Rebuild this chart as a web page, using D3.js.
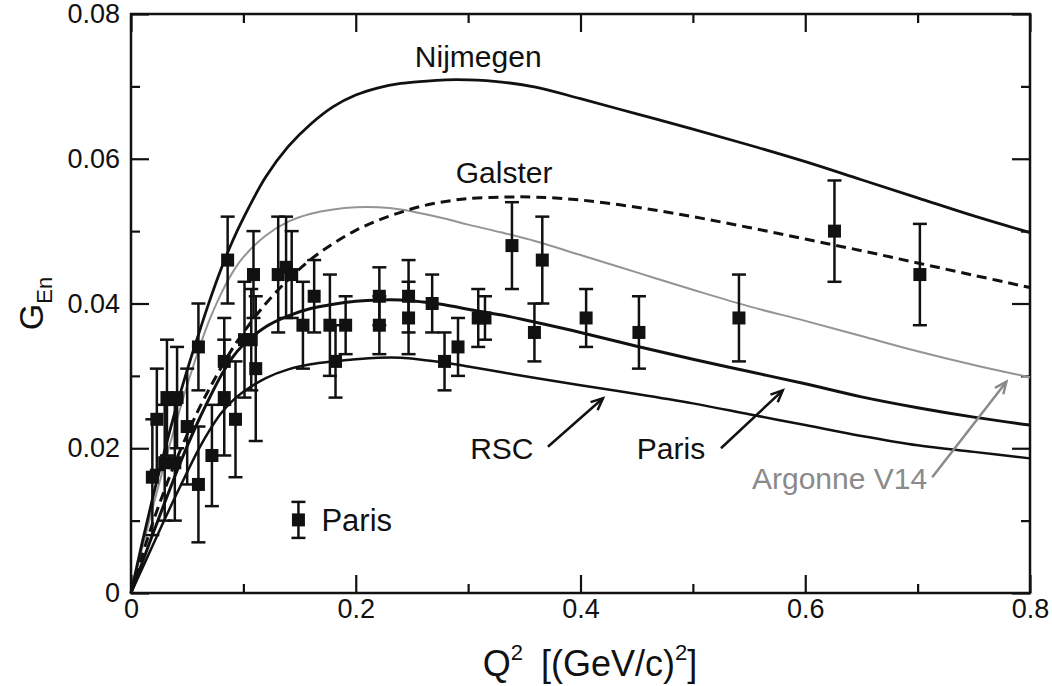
<!DOCTYPE html>
<html><head><meta charset="utf-8">
<script src="https://cdn.jsdelivr.net/npm/d3@7"></script>
<style>
body{margin:0;background:#fff;}
text{font-family:"Liberation Sans",Arial,Helvetica,sans-serif;}
</style></head>
<body><svg id="c" width="1052" height="686"></svg>
<script>
// ---- data ----
const qData = [0.019,0.023,0.030,0.032,0.039,0.041,0.050,0.060,0.060,0.072,0.083,0.083,0.086,0.093,0.101,0.107,0.109,0.111,0.131,0.138,0.143,0.153,0.163,0.177,0.182,0.191,0.221,0.221,0.247,0.247,0.268,0.279,0.291,0.309,0.315,0.339,0.359,0.366,0.405,0.452,0.541,0.626,0.702];
const gData = [0.016,0.024,0.018,0.027,0.018,0.027,0.023,0.034,0.015,0.019,0.032,0.027,0.046,0.024,0.035,0.035,0.044,0.031,0.044,0.045,0.044,0.037,0.041,0.037,0.032,0.037,0.041,0.037,0.041,0.038,0.040,0.032,0.034,0.038,0.038,0.048,0.036,0.046,0.038,0.036,0.038,0.050,0.044];
const gErr  = [0.008,0.007,0.008,0.008,0.008,0.007,0.008,0.006,0.008,0.007,0.006,0.008,0.006,0.008,0.008,0.007,0.006,0.010,0.008,0.007,0.006,0.006,0.005,0.007,0.005,0.004,0.004,0.004,0.005,0.005,0.004,0.004,0.004,0.004,0.003,0.006,0.004,0.006,0.004,0.005,0.006,0.007,0.007];

const qCurve = [0,0.01,0.02,0.03,0.04,0.05,0.06,0.07,0.08,0.09,0.10,0.12,0.14,0.16,0.18,0.20,0.22,0.24,0.26,0.28,0.30,0.33,0.36,0.40,0.45,0.50,0.55,0.60,0.65,0.70,0.75,0.80];
const nijmegen = [0,0.0070,0.0136,0.0197,0.0255,0.0308,0.0357,0.0404,0.0447,0.0485,0.0518,0.0575,0.0617,0.0648,0.0672,0.0688,0.0698,0.0704,0.0707,0.0709,0.0709,0.0706,0.0699,0.0683,0.0662,0.0641,0.0619,0.0596,0.0571,0.0546,0.0521,0.0498];
const galster  = [0,0.0052,0.0100,0.0143,0.0183,0.0219,0.0253,0.0283,0.0311,0.0337,0.0360,0.0400,0.0433,0.0461,0.0483,0.0501,0.0515,0.0526,0.0535,0.0541,0.0545,0.0547,0.0547,0.0543,0.0533,0.0520,0.0505,0.0489,0.0473,0.0456,0.0439,0.0422];
const argonne  = [0,0.0062,0.0122,0.0180,0.0235,0.0287,0.0335,0.0378,0.0413,0.0442,0.0464,0.0494,0.0513,0.0524,0.0530,0.0533,0.0533,0.0530,0.0524,0.0517,0.0509,0.0498,0.0486,0.0467,0.0443,0.0419,0.0396,0.0376,0.0355,0.0334,0.0315,0.0298];
const paris    = [0,0.0042,0.0084,0.0125,0.0165,0.0203,0.0238,0.0270,0.0300,0.0325,0.0343,0.0368,0.0383,0.0393,0.0399,0.0403,0.0405,0.0405,0.0402,0.0398,0.0392,0.0384,0.0374,0.0360,0.0341,0.0323,0.0306,0.0289,0.0271,0.0256,0.0243,0.0232];
const rsc      = [0,0.0034,0.0068,0.0102,0.0135,0.0167,0.0198,0.0225,0.0248,0.0265,0.0278,0.0297,0.0309,0.0316,0.0320,0.0323,0.0325,0.0325,0.0322,0.0318,0.0313,0.0305,0.0297,0.0287,0.0275,0.0262,0.0247,0.0232,0.0217,0.0204,0.0195,0.0186];

const xTicks = [0,0.2,0.4,0.6,0.8];
const xMinor = [0.1,0.3,0.5,0.7];
const yTicks = [0,0.02,0.04,0.06,0.08];
const yMinor = [0.01,0.03,0.05,0.07];

// annotation anchors (data coords)
const labels = [
  {t:"Nijmegen", q:0.309, g:0.0727, c:"#111"},
  {t:"Galster", q:0.332, g:0.0566, c:"#111"},
  {t:"RSC", q:0.330, g:0.0185, c:"#111"},
  {t:"Paris", q:0.4805, g:0.0185, c:"#111"},
  {t:"Argonne V14", q:0.6305, g:0.0144, c:"#8a8a8a"}
];
const arrows = [
  {q1:0.371,g1:0.0202,q2:0.420,g2:0.0269,c:"#111"},
  {q1:0.525,g1:0.0200,q2:0.580,g2:0.0280,c:"#111"},
  {q1:0.713,g1:0.0160,q2:0.779,g2:0.0292,c:"#8a8a8a"}
];

// ---- chart ----
const svg = d3.select("#c");
const L=131,R=1030,T=14,B=593;
const x = d3.scaleLinear().domain([0,0.8]).range([L,R]);
const y = d3.scaleLinear().domain([0,0.08]).range([B,T]);

const fmtX = d=> d===0?"0":d3.format(".1f")(d);
const fmtY = d=> d===0?"0":d3.format(".2f")(d);

function styleAxis(g){ g.select(".domain").remove(); g.selectAll("line").attr("stroke","#111").attr("stroke-width",2.2); g.selectAll("text").attr("font-size",27).attr("fill","#111"); }

svg.append("g").attr("transform",`translate(0,${B})`).call(d3.axisBottom(x).tickValues(xTicks).tickSize(-18).tickPadding(6).tickFormat(fmtX)).call(styleAxis);
svg.append("g").attr("transform",`translate(0,${B})`).call(d3.axisBottom(x).tickValues(xMinor).tickSize(-9).tickFormat("")).call(styleAxis);
svg.append("g").attr("transform",`translate(0,${T})`).call(d3.axisTop(x).tickValues(xTicks).tickSize(-18).tickFormat("")).call(styleAxis);
svg.append("g").attr("transform",`translate(0,${T})`).call(d3.axisTop(x).tickValues(xMinor).tickSize(-9).tickFormat("")).call(styleAxis);
svg.append("g").attr("transform",`translate(${L},0)`).call(d3.axisLeft(y).tickValues(yTicks).tickSize(-18).tickPadding(11).tickFormat(fmtY)).call(styleAxis);
svg.append("g").attr("transform",`translate(${L},0)`).call(d3.axisLeft(y).tickValues(yMinor).tickSize(-9).tickFormat("")).call(styleAxis);
svg.append("g").attr("transform",`translate(${R},0)`).call(d3.axisRight(y).tickValues(yTicks).tickSize(-18).tickFormat("")).call(styleAxis);
svg.append("g").attr("transform",`translate(${R},0)`).call(d3.axisRight(y).tickValues(yMinor).tickSize(-9).tickFormat("")).call(styleAxis);

svg.append("rect").attr("x",L).attr("y",T).attr("width",R-L).attr("height",B-T)
  .attr("fill","none").attr("stroke","#111").attr("stroke-width",2.5);

// curves
const line = d3.line().x(d=>x(d[0])).y(d=>y(d[1])).curve(d3.curveCatmullRom.alpha(0.5));
const curves = [
  {v:argonne, c:"#949494", w:2, dash:null},
  {v:rsc, c:"#111", w:2.5, dash:null},
  {v:paris, c:"#111", w:3, dash:null},
  {v:galster, c:"#111", w:3, dash:"10,6"},
  {v:nijmegen, c:"#111", w:2.8, dash:null}
];
curves.forEach(cv=>{
  svg.append("path").datum(qCurve.map((q,i)=>[q,cv.v[i]])).attr("d",line)
    .attr("fill","none").attr("stroke",cv.c).attr("stroke-width",cv.w)
    .attr("stroke-dasharray",cv.dash);
});

// data points
const pts = qData.map((q,i)=>({q,g:gData[i],e:gErr[i]}));
const pg = svg.append("g");
pts.forEach(p=>{
  const cx=x(p.q), y1=y(p.g+p.e), y2=y(p.g-p.e);
  pg.append("line").attr("x1",cx).attr("x2",cx).attr("y1",y1).attr("y2",y2).attr("stroke","#111").attr("stroke-width",2.5);
  [y1,y2].forEach(yy=>pg.append("line").attr("x1",cx-7).attr("x2",cx+7).attr("y1",yy).attr("y2",yy).attr("stroke","#111").attr("stroke-width",2.5));
  pg.append("rect").attr("x",cx-6.5).attr("y",y(p.g)-6.5).attr("width",13).attr("height",13).attr("fill","#111");
});

// legend
const lx=x(0.149), ly=y(0.0101);
svg.append("line").attr("x1",lx).attr("x2",lx).attr("y1",ly-18).attr("y2",ly+18).attr("stroke","#111").attr("stroke-width",2.5);
[ly-18,ly+18].forEach(yy=>svg.append("line").attr("x1",lx-7).attr("x2",lx+7).attr("y1",yy).attr("y2",yy).attr("stroke","#111").attr("stroke-width",2.5));
svg.append("rect").attr("x",lx-6.5).attr("y",ly-6.5).attr("width",13).attr("height",13).attr("fill","#111");
svg.append("text").attr("x",lx+23).attr("y",ly+11).attr("font-size",31).attr("fill","#111").text("Paris");

// labels
labels.forEach(l=>svg.append("text").attr("x",x(l.q)).attr("y",y(l.g)).attr("text-anchor","middle")
  .attr("font-size",30).attr("fill",l.c).text(l.t));

// arrows
arrows.forEach(a=>{
  const x1=x(a.q1),y1=y(a.g1),x2=x(a.q2),y2=y(a.g2);
  const ang=Math.atan2(y2-y1,x2-x1), h=13, s=0.42;
  svg.append("line").attr("x1",x1).attr("y1",y1).attr("x2",x2).attr("y2",y2).attr("stroke",a.c).attr("stroke-width",2.5);
  const p1=[x2-h*Math.cos(ang-s), y2-h*Math.sin(ang-s)], p2=[x2-h*Math.cos(ang+s), y2-h*Math.sin(ang+s)];
  svg.append("path").attr("d",`M${p1}L${x2},${y2}L${p2}`).attr("fill","none").attr("stroke",a.c).attr("stroke-width",2.5);
});

// axis titles
const xt = svg.append("text").attr("x",590).attr("y",676).attr("text-anchor","middle").attr("font-size",36).attr("fill","#111");
xt.append("tspan").text("Q");
xt.append("tspan").attr("font-size",22).attr("dy",-16).text("2");
xt.append("tspan").attr("dy",16).text("\u2002[(GeV/c)");
xt.append("tspan").attr("font-size",22).attr("dy",-16).text("2");
xt.append("tspan").attr("dy",16).text("]");

const yt = svg.append("text").attr("transform",`translate(43,${(T+B)/2}) rotate(-90)`).attr("text-anchor","middle").attr("font-size",34).attr("fill","#111");
yt.append("tspan").text("G");
yt.append("tspan").attr("font-size",22).attr("dy",9).text("En");
</script></body></html>
